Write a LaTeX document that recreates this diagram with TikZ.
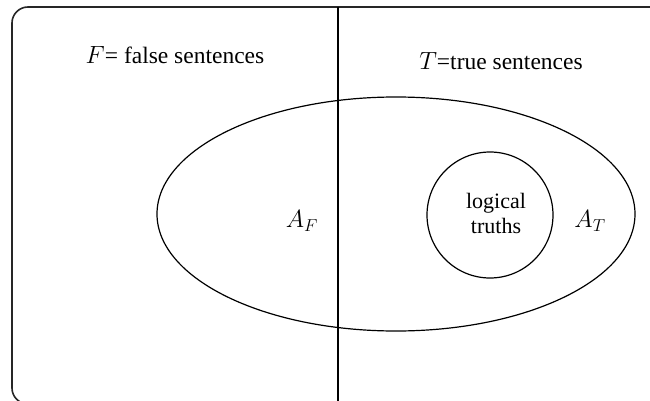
\documentclass[tikz,border=0pt]{standalone}
\usepackage{fontspec}
\setmainfont{Liberation Serif}
\usepackage{tikz}
\usetikzlibrary{positioning}

\begin{document}
\begin{tikzpicture}[x=1pt, y=-1pt, line width=1.2pt,
  every node/.style={font=\fontsize{22}{25}\selectfont, inner sep=0pt},
  setlabel/.style={font=\fontsize{23.5}{26}\selectfont}]
  \useasboundingbox (0,0) rectangle (650,401);
  \begin{scope}
    \clip (0,0) rectangle (650,401);
    \draw[rounded corners=16pt, line width=1.6pt, black!85] (12,7) rectangle (672,404);
  \end{scope}
  \draw (338,7) -- (338,401);

  % sets of sentences
  \draw (396,214) ellipse [x radius=239, y radius=117];
  \node (logic) [draw, circle, minimum size=126pt, line width=1.2pt]
    at (490,215) {};
  \node (logictext) [align=center] at (496,213) {logical\\truths};

  \node (falselbl) [setlabel] at (175,55) {$F$= false sentences};
  \node (truelbl) [setlabel] at (501,61) {$T$=true sentences};
  \node (AF) [setlabel] at (302,221) {$A_F$};
  \node (AT) [setlabel] at (590,221) {$A_T$};
\end{tikzpicture}
\end{document}
